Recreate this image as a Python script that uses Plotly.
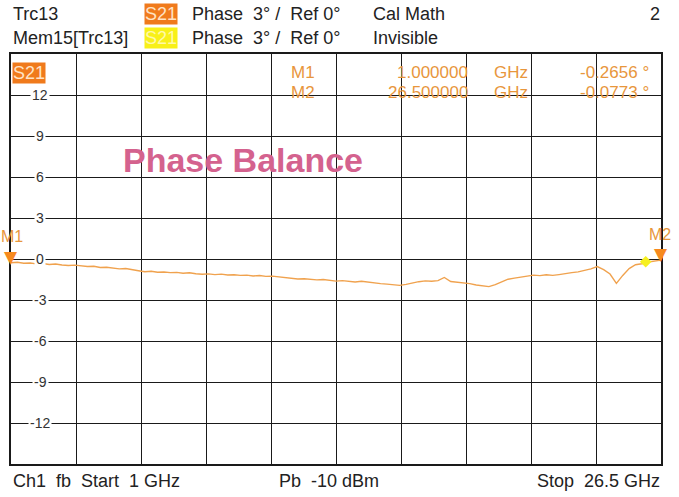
import plotly.graph_objects as go

# ---- data ----
freq_ghz = [1.00, 1.25, 1.50, 1.75, 2.00, 2.25, 2.50, 2.75, 3.00, 3.25, 3.50, 3.75,
            4.00, 4.25, 4.50, 4.75, 5.00, 5.25, 5.50, 5.75, 6.00, 6.25, 6.50, 6.75,
            7.00, 7.25, 7.50, 7.75, 8.00, 8.25, 8.50, 8.75, 9.00, 9.25, 9.50, 9.75,
            10.00, 10.25, 10.50, 10.75, 11.00, 11.25, 11.50, 11.75, 12.00, 12.25, 12.50, 12.75,
            13.00, 13.25, 13.50, 13.75, 14.00, 14.25, 14.50, 14.75, 15.00, 15.25, 15.50, 15.75,
            16.00, 16.25, 16.50, 16.75, 17.00, 17.25, 17.50, 17.75, 18.00, 18.25, 18.50, 18.75,
            19.00, 19.25, 19.50, 19.75, 20.00, 20.25, 20.50, 20.75, 21.00, 21.25, 21.50, 21.75,
            22.00, 22.25, 22.50, 22.75, 23.00, 23.25, 23.50, 23.75, 24.00, 24.25, 24.50, 24.75,
            25.00, 25.25, 25.50, 25.75, 26.00, 26.25, 26.50]
phase_deg = [-0.27, -0.24, -0.31, -0.29, -0.36, -0.33, -0.40, -0.37, -0.44, -0.48, -0.45, -0.52,
             -0.55, -0.53, -0.62, -0.60, -0.68, -0.72, -0.70, -0.80, -0.86, -0.93, -0.90, -0.97,
             -0.95, -1.00, -0.98, -1.04, -1.01, -1.08, -1.12, -1.09, -1.14, -1.11, -1.17, -1.15,
             -1.20, -1.18, -1.24, -1.21, -1.27, -1.25, -1.30, -1.36, -1.40, -1.46, -1.44, -1.50,
             -1.53, -1.50, -1.58, -1.62, -1.58, -1.65, -1.68, -1.63, -1.70, -1.74, -1.80, -1.84,
             -1.88, -1.93, -1.86, -1.75, -1.66, -1.60, -1.63, -1.58, -1.35, -1.65, -1.70, -1.72,
             -1.80, -1.90, -1.98, -2.02, -1.88, -1.70, -1.48, -1.40, -1.30, -1.25, -1.18, -1.22,
             -1.15, -1.20, -1.14, -1.05, -1.00, -0.94, -0.85, -0.72, -0.55, -0.78, -1.10, -1.78,
             -1.20, -0.70, -0.42, -0.35, -0.22, -0.15, -0.08]

marker_names = ["M1", "M2"]
marker_freq = [1.0, 26.5]
marker_val = [-0.2656, -0.0773]
marker_freq_txt = ["1.000000", "26.500000"]
marker_val_txt = ["-0.2656 °", "-0.0773 °"]

y_ticks = [12, 9, 6, 3, 0, -3, -6, -9, -12]
f_start, f_stop = 1.0, 26.5

FONT = "Liberation Sans, Arial, sans-serif"
TRACE = "#f0a24e"
MTEXT = "#e8963c"

fig = go.Figure()
fig.add_trace(go.Scatter(x=freq_ghz, y=phase_deg, mode="lines",
                         line=dict(color=TRACE, width=1.4), hoverinfo="skip"))
# memory trace marker blob (yellow)
fig.add_trace(go.Scatter(x=[25.9], y=[-0.2], mode="markers",
                         marker=dict(color="#f6f020", size=9, symbol="diamond"),
                         hoverinfo="skip", cliponaxis=False))

W, H = 679, 497
L, R, T, B = 11, 661, 54, 464

fig.update_layout(
    width=W, height=H,
    margin=dict(l=L, r=W - R, t=T, b=H - B),
    paper_bgcolor="white", plot_bgcolor="white",
    showlegend=False,
    xaxis=dict(range=[f_start, f_stop], tick0=f_start, dtick=(f_stop - f_start) / 10,
               showgrid=True, gridcolor="#1a1a1a", gridwidth=1.3, zeroline=False,
               showticklabels=False, ticks="", showline=True, linecolor="#1a1a1a",
               linewidth=1.5, mirror=True, fixedrange=True),
    yaxis=dict(range=[-15, 15], tick0=0, dtick=3,
               showgrid=True, gridcolor="#1a1a1a", gridwidth=1.3, zeroline=False,
               showticklabels=False, ticks="", showline=True, linecolor="#1a1a1a",
               linewidth=1.5, mirror=True, fixedrange=True),
    font=dict(family=FONT, color="#222"),
)

ann = []
def px(xp): return (xp - L) / (R - L)
def py(yp): return (B - yp) / (B - T)

def txt(x, y, s, size=18, color="#222", xanchor="left", yanchor="middle", **kw):
    ann.append(dict(x=x, y=y, xref="paper", yref="paper", text=s, showarrow=False,
                    xanchor=xanchor, yanchor=yanchor,
                    font=dict(family=FONT, size=size, color=color), **kw))

# header
txt(px(11), py(14), "Trc13")
txt(px(11), py(38), "Mem15[Trc13]")
txt(px(144), py(14), "S21", color="#ffe2c4", bgcolor="#f07a1c", borderpad=0)
txt(px(144), py(38), "S21", color="#fff9a8", bgcolor="#f8f018", borderpad=0)
txt(px(190), py(14), "Phase  3° /  Ref 0°")
txt(px(190), py(38), "Phase  3° /  Ref 0°")
txt(px(371), py(14), "Cal Math")
txt(px(371), py(38), "Invisible")
txt(px(662), py(14), "2", xanchor="right")

# footer
txt(px(11), py(481), "Ch1  fb  Start  1 GHz")
txt(px(277), py(481), "Pb  -10 dBm")
txt(px(662), py(481), "Stop  26.5 GHz", xanchor="right")

# S21 label inside plot
txt(px(12), py(73), "S21", color="#ffe2c4", bgcolor="#f07a1c", borderpad=0)

# marker table
for i, (nm, fq, vv) in enumerate(zip(marker_names, marker_freq_txt, marker_val_txt)):
    yy = py(72 + 21 * i)
    txt(px(289), yy, nm, size=17, color=MTEXT)
    txt(px(470), yy, fq, size=17, color=MTEXT, xanchor="right")
    txt(px(492), yy, "GHz", size=17, color=MTEXT)
    txt(px(651), yy, vv, size=17, color=MTEXT, xanchor="right")

# Phase Balance title
txt(px(121), py(160), "<b>Phase Balance</b>", size=34, color="#d4628e")

# y tick labels with white background (interrupting grid)
for v in y_ticks:
    ann.append(dict(x=px(40), y=v, xref="paper", yref="y", text=str(v), showarrow=False,
                    xanchor="center", yanchor="middle", bgcolor="white", borderpad=1,
                    font=dict(family=FONT, size=14, color="#333")))

# marker triangles + labels
for nm, fq, vv in zip(marker_names, marker_freq, marker_val):
    ann.append(dict(x=fq, y=vv, xref="x", yref="y", text="▼", showarrow=False,
                    yshift=6, xanchor="center", yanchor="middle",
                    font=dict(family="DejaVu Sans", size=17, color="#f78a1e")))
    ann.append(dict(x=fq, y=vv, xref="x", yref="y", text=nm, showarrow=False,
                    yshift=26, xshift=(1 if fq == f_start else -1),
                    xanchor="center",
                    yanchor="middle", font=dict(family=FONT, size=16, color=MTEXT)))

fig.update_layout(annotations=ann)
fig.write_html("out.html", config={"displayModeBar": False},
               post_script="document.body.style.margin='0';document.body.style.overflow='hidden';")
